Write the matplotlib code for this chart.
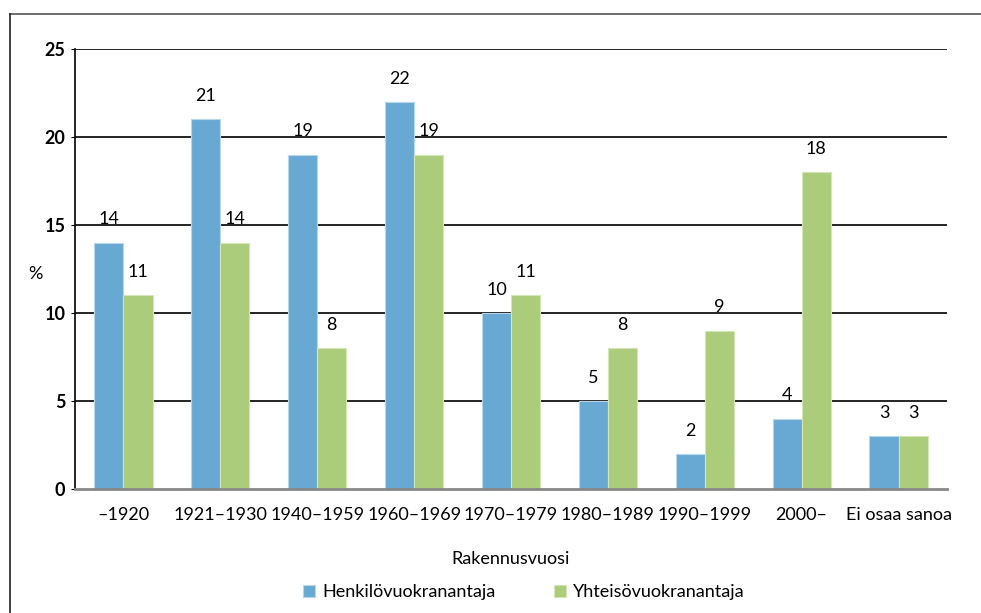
import matplotlib.pyplot as plt
import numpy as np

# Rakennusvuosi ja vuokranantaja
categories = ['–1920', '1921–1930', '1940–1959', '1960–1969', '1970–1979',
              '1980–1989', '1990–1999', '2000–', 'Ei osaa sanoa']
henkilo = [14, 21, 19, 22, 10, 5, 2, 4, 3]
yhteiso = [11, 14, 8, 19, 11, 8, 9, 18, 3]
series_names = ['Henkilövuokranantaja', 'Yhteisövuokranantaja']
yticks = [0, 5, 10, 15, 20, 25]

plt.rcParams['font.family'] = ['Lato', 'DejaVu Sans']

fig = plt.figure(figsize=(9.81, 6.13), dpi=100)
ax = fig.add_axes([0.0765, 0.2023, 0.8888, 0.7177])

# kehys kuvan ympärillä (jatkuu yli oikean ja alareunan)
fig.add_artist(plt.Line2D([0.0102, 1.0], [0.977, 0.977], color='#555555', lw=1.2))
fig.add_artist(plt.Line2D([0.0102, 0.0102], [0.0, 0.977], color='#222222', lw=1.2))

x = np.arange(len(categories))
w = 0.3
b1 = ax.bar(x - w / 2, henkilo, w, color='#67A9D3', edgecolor='#B5D6EC', lw=0.8,
            label=series_names[0], zorder=3)
b2 = ax.bar(x + w / 2, yhteiso, w, color='#ABCC7A', edgecolor='#D3E6B8', lw=0.8,
            label=series_names[1], zorder=3)

for bars, vals in [(b1, henkilo), (b2, yhteiso)]:
    for r, v in zip(bars, vals):
        ax.annotate(str(v), (r.get_x() + r.get_width() / 2, v), xytext=(0, 11),
                    textcoords='offset points', ha='center', va='bottom', fontsize=13)

ax.set_xlim(-0.5, len(categories) - 0.5)
ax.set_ylim(0, 25)
ax.set_yticks(yticks)
ax.set_yticklabels([str(t) for t in yticks], fontsize=13, fontweight='bold')
ax.set_xticks(x)
ax.set_xticklabels(categories, fontsize=13)
ax.tick_params(axis='x', length=0, pad=13)
ax.tick_params(axis='y', length=3, pad=4, direction='out')

for t in yticks[1:]:
    ax.axhline(t, color='black', lw=1.2, zorder=1)

for s in ['top', 'right']:
    ax.spines[s].set_visible(False)
ax.spines['left'].set_color('black')
ax.spines['left'].set_linewidth(1.2)
ax.spines['bottom'].set_color('#888888')
ax.spines['bottom'].set_linewidth(2)
ax.spines['bottom'].set_zorder(4)

ax.set_ylabel('%', rotation=0, fontsize=13, labelpad=20)
ax.yaxis.set_label_coords(-0.046, 0.47)
ax.set_xlabel('Rakennusvuosi', fontsize=13, labelpad=20)

fig.legend(handles=[b1, b2], loc='center', bbox_to_anchor=(0.534, 0.034), ncol=2,
           frameon=False, fontsize=13, handlelength=0.7, handleheight=0.7,
           columnspacing=3.2, handletextpad=0.4)

fig.savefig('out.png', dpi=100)
